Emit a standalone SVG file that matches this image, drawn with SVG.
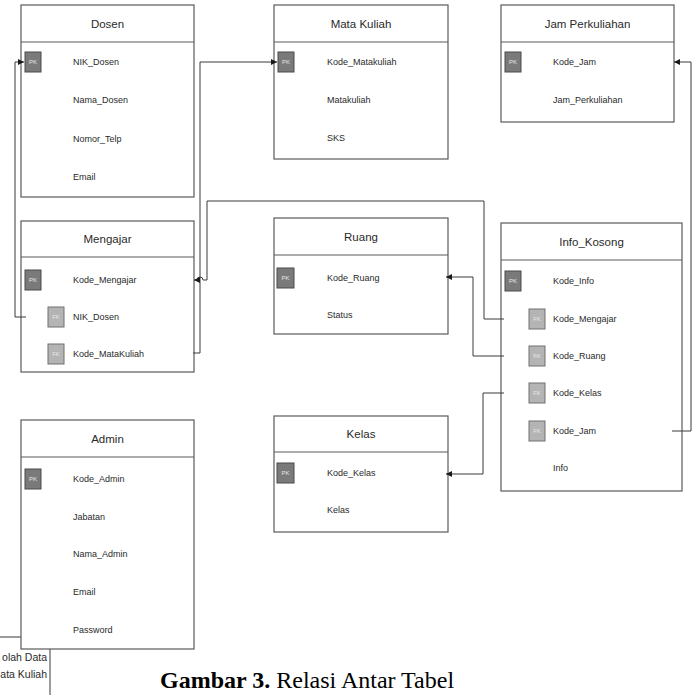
<svg xmlns="http://www.w3.org/2000/svg" width="697" height="695" viewBox="0 0 697 695">
  <style>
    .tbl { fill: #ffffff; stroke: #5a5a5a; stroke-width: 1.2; }
    .hdr { fill: none; stroke: #5a5a5a; stroke-width: 1.2; }
    .title { font-family: "Liberation Sans", Arial, sans-serif; font-size: 11.5px; fill: #2a2a2a; text-anchor: middle; }
    .fld { font-family: "Liberation Sans", Arial, sans-serif; font-size: 9px; fill: #2a2a2a; }
    .frag { font-family: "Liberation Sans", Arial, sans-serif; font-size: 10.5px; fill: #2a2a2a; text-anchor: end; }
    .pk { fill: #7a7a7a; stroke: #4a4a4a; stroke-width: 1; }
    .fk { fill: #b4b4b4; stroke: #707070; stroke-width: 1; }
    .badge { font-family: "Liberation Sans", Arial, sans-serif; font-size: 6px; fill: #e8e8e8; text-anchor: middle; }
    .link { fill: none; stroke: #3a3a3a; stroke-width: 1; }
    .caption { font-family: "Liberation Serif", "Times New Roman", serif; font-size: 24px; fill: #000000; }
  </style>
  <defs>
    <marker id="arrow" markerUnits="userSpaceOnUse" markerWidth="6" markerHeight="6" refX="6" refY="3" orient="auto">
      <path d="M0,0 L6,3 L0,6 z" fill="#1a1a1a"/>
    </marker>
  </defs>

  <!-- partly hidden box in the lower left corner -->
  <g id="fragment">
    <rect x="-5" y="637" width="55" height="60" fill="#ffffff" stroke="#5a5a5a" stroke-width="1.2"/>
    <text class="frag" x="47" y="661">olah Data</text>
    <text class="frag" x="47" y="678">ata Kuliah</text>
  </g>

  <!-- Dosen -->
  <g id="dosen">
    <rect class="tbl" x="21" y="5" width="173" height="192"/>
    <line class="hdr" x1="21" y1="42" x2="194" y2="42"/>
    <text class="title" x="107.5" y="28">Dosen</text>
    <rect class="pk" x="25" y="52" width="16" height="20"/>
    <text class="badge" x="33" y="64">PK</text>
    <text class="fld" x="73" y="65">NIK_Dosen</text>
    <text class="fld" x="73" y="103">Nama_Dosen</text>
    <text class="fld" x="73" y="142">Nomor_Telp</text>
    <text class="fld" x="73" y="180">Email</text>
  </g>

  <!-- Mata Kuliah -->
  <g id="mata-kuliah">
    <rect class="tbl" x="274" y="5" width="174" height="154"/>
    <line class="hdr" x1="274" y1="42" x2="448" y2="42"/>
    <text class="title" x="361" y="28">Mata Kuliah</text>
    <rect class="pk" x="278" y="52" width="16" height="20"/>
    <text class="badge" x="286" y="64">PK</text>
    <text class="fld" x="327" y="65">Kode_Matakuliah</text>
    <text class="fld" x="327" y="103">Matakuliah</text>
    <text class="fld" x="327" y="141">SKS</text>
  </g>

  <!-- Jam Perkuliahan -->
  <g id="jam-perkuliahan">
    <rect class="tbl" x="501" y="5" width="173" height="117"/>
    <line class="hdr" x1="501" y1="42" x2="674" y2="42"/>
    <text class="title" x="587.5" y="28">Jam Perkuliahan</text>
    <rect class="pk" x="505" y="52" width="16" height="20"/>
    <text class="badge" x="513" y="64">PK</text>
    <text class="fld" x="553" y="65">Kode_Jam</text>
    <text class="fld" x="553" y="103">Jam_Perkuliahan</text>
  </g>

  <!-- Mengajar -->
  <g id="mengajar">
    <rect class="tbl" x="21" y="221" width="173" height="151"/>
    <line class="hdr" x1="21" y1="257" x2="194" y2="257"/>
    <text class="title" x="107.5" y="243">Mengajar</text>
    <rect class="pk" x="25" y="270" width="16" height="20"/>
    <text class="badge" x="33" y="282">PK</text>
    <text class="fld" x="73" y="283">Kode_Mengajar</text>
    <rect class="fk" x="48" y="307" width="16" height="20"/>
    <text class="badge" x="56" y="319">FK</text>
    <text class="fld" x="73" y="320">NIK_Dosen</text>
    <rect class="fk" x="48" y="344" width="16" height="20"/>
    <text class="badge" x="56" y="356">FK</text>
    <text class="fld" x="73" y="357">Kode_MataKuliah</text>
  </g>

  <!-- Ruang -->
  <g id="ruang">
    <rect class="tbl" x="274" y="218" width="174" height="116"/>
    <line class="hdr" x1="274" y1="255" x2="448" y2="255"/>
    <text class="title" x="361" y="241">Ruang</text>
    <rect class="pk" x="277" y="268" width="17" height="20"/>
    <text class="badge" x="285.5" y="280">PK</text>
    <text class="fld" x="327" y="281">Kode_Ruang</text>
    <text class="fld" x="327" y="318">Status</text>
  </g>

  <!-- Info_Kosong -->
  <g id="info-kosong">
    <rect class="tbl" x="501" y="223" width="181" height="268"/>
    <line class="hdr" x1="501" y1="260" x2="682" y2="260"/>
    <text class="title" x="591.5" y="246">Info_Kosong</text>
    <rect class="pk" x="505" y="271" width="16" height="20"/>
    <text class="badge" x="513" y="283">PK</text>
    <text class="fld" x="553" y="284">Kode_Info</text>
    <rect class="fk" x="529" y="309" width="16" height="20"/>
    <text class="badge" x="537" y="321">FK</text>
    <text class="fld" x="553" y="322">Kode_Mengajar</text>
    <rect class="fk" x="529" y="346" width="16" height="20"/>
    <text class="badge" x="537" y="358">FK</text>
    <text class="fld" x="553" y="359">Kode_Ruang</text>
    <rect class="fk" x="529" y="383" width="16" height="20"/>
    <text class="badge" x="537" y="395">FK</text>
    <text class="fld" x="553" y="396">Kode_Kelas</text>
    <rect class="fk" x="529" y="421" width="16" height="20"/>
    <text class="badge" x="537" y="433">FK</text>
    <text class="fld" x="553" y="434">Kode_Jam</text>
    <text class="fld" x="553" y="471">Info</text>
  </g>

  <!-- Kelas -->
  <g id="kelas">
    <rect class="tbl" x="274" y="416" width="174" height="116"/>
    <line class="hdr" x1="274" y1="452" x2="448" y2="452"/>
    <text class="title" x="361" y="438">Kelas</text>
    <rect class="pk" x="277" y="463" width="17" height="20"/>
    <text class="badge" x="285.5" y="475">PK</text>
    <text class="fld" x="327" y="476">Kode_Kelas</text>
    <text class="fld" x="327" y="513">Kelas</text>
  </g>

  <!-- Admin -->
  <g id="admin">
    <rect class="tbl" x="21" y="420" width="173" height="229"/>
    <line class="hdr" x1="21" y1="457" x2="194" y2="457"/>
    <text class="title" x="107.5" y="443">Admin</text>
    <rect class="pk" x="25" y="469" width="16" height="20"/>
    <text class="badge" x="33" y="481">PK</text>
    <text class="fld" x="73" y="482">Kode_Admin</text>
    <text class="fld" x="73" y="520">Jabatan</text>
    <text class="fld" x="73" y="557">Nama_Admin</text>
    <text class="fld" x="73" y="595">Email</text>
    <text class="fld" x="73" y="633">Password</text>
  </g>

  <!-- relations -->
  <g id="connectors">
    <path class="link" d="M26,317 H15 V62 H24" marker-end="url(#arrow)"/>
    <path class="link" d="M193,353 H200 V62 H277" marker-end="url(#arrow)"/>
    <path class="link" d="M504,319 H484 V201 H207 V280 H203 A3,3 0 0 0 197,280 H194" marker-end="url(#arrow)"/>
    <path class="link" d="M504,356 H473 V277 H446" marker-end="url(#arrow)"/>
    <path class="link" d="M504,393 H483 V474 H446" marker-end="url(#arrow)"/>
    <path class="link" d="M672,431 H691 V62 H674" marker-end="url(#arrow)"/>
  </g>

  <text class="caption" x="160" y="688"><tspan font-weight="bold">Gambar 3.</tspan> Relasi Antar Tabel</text>
</svg>
